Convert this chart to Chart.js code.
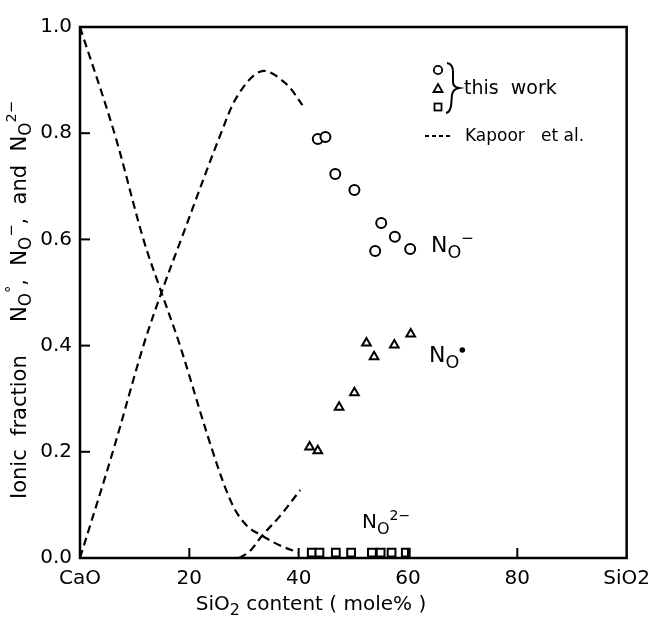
<!DOCTYPE html>
<html>
<head>
<meta charset="utf-8">
<script src="https://cdn.jsdelivr.net/npm/chart.js@4.4.1/dist/chart.umd.min.js"></script>
<style>
  html, body { margin: 0; padding: 0; background: #fff; }
  #wrap { width: 659px; height: 625px; position: relative; }
</style>
</head>
<body>
<div id="wrap"><canvas id="chart"></canvas></div>
<script>
// measured points (this work)
const circleX = [43.5, 44.9, 46.7, 50.2, 54.0, 55.1, 57.6, 60.4];
const circleY = [0.789, 0.793, 0.723, 0.693, 0.578, 0.631, 0.605, 0.582];
const triangleX = [42.0, 43.5, 47.4, 50.2, 52.4, 53.8, 57.5, 60.5];
const triangleY = [0.209, 0.202, 0.284, 0.311, 0.405, 0.379, 0.401, 0.422];
const squareX = [42.4, 43.8, 46.8, 49.6, 53.4, 55.0, 57.0, 59.6];
const squareY = [0.01, 0.01, 0.01, 0.01, 0.01, 0.01, 0.01, 0.01];

// Kapoor et al. curves
const freeX = [0, 6.3, 11.6, 14.9, 18.2, 24.2, 27.9, 30.6, 33.3, 36.5, 40];
const freeY = [1.0, 0.8, 0.6, 0.5, 0.403, 0.203, 0.1, 0.06, 0.042, 0.024, 0.01];
const singleX = [0, 6.0, 11.6, 14.9, 18.5, 25.8, 29.1, 33.3, 37.6, 40.7];
const singleY = [0, 0.2, 0.4, 0.5, 0.6, 0.8, 0.875, 0.917, 0.894, 0.853];
const bridgeX = [29.1, 31.0, 33.3, 36.5, 40.3];
const bridgeY = [0, 0.012, 0.042, 0.078, 0.128];

// axis ticks
const xTicks = [0, 20, 40, 60, 80, 100];
const xTickNames = { 0: 'CaO', 100: 'SiO2' };
const yTicks = [0, 0.2, 0.4, 0.6, 0.8, 1.0];

const FONT = "'DejaVu Sans', sans-serif";

function pts(xs, ys) {
    return xs.map((x, i) => ({ x: x, y: ys[i] }));
}

function markerSet(xs, ys, style, radius) {
    return {
        data: pts(xs, ys),
        pointStyle: style,
        pointRadius: radius,
        pointBackgroundColor: '#fff',
        pointBorderColor: '#000',
        pointBorderWidth: 2,
        showLine: false
    };
}

function dashedSet(xs, ys) {
    return {
        data: pts(xs, ys),
        showLine: true,
        borderColor: '#000',
        borderWidth: 2.2,
        borderDash: [8, 5],
        pointRadius: 0,
        tension: 0.35,
        fill: false
    };
}

// draw text with subscripts / superscripts, returns width
function drawRich(ctx, x, y, parts, size, measureOnly) {
    let cx = x;
    parts.forEach(([txt, kind]) => {
        let fs = size, dy = 0;
        if (kind === 'sub') { fs = size * 0.8; dy = size * 0.28; }
        if (kind === 'sup') { fs = size * 0.7; dy = -size * 0.42; }
        ctx.font = fs + 'px ' + FONT;
        if (!measureOnly) ctx.fillText(txt, cx, y + dy);
        cx += ctx.measureText(txt).width;
    });
    return cx - x;
}

const decorations = {
    id: 'decorations',
    afterDraw(chart) {
        const ctx = chart.ctx;
        const xs = chart.scales.x;
        const ys = chart.scales.y;
        const a = chart.chartArea;
        ctx.save();
        ctx.fillStyle = '#000';
        ctx.strokeStyle = '#000';
        ctx.setLineDash([]);

        // frame
        ctx.lineWidth = 2.5;
        ctx.strokeRect(a.left, a.top, a.right - a.left, a.bottom - a.top);

        // inward ticks
        ctx.lineWidth = 2;
        yTicks.slice(1, -1).forEach(v => {
            const py = ys.getPixelForValue(v);
            ctx.beginPath();
            ctx.moveTo(a.left, py);
            ctx.lineTo(a.left + 10, py);
            ctx.stroke();
        });
        xTicks.slice(1, -1).forEach(v => {
            const px = xs.getPixelForValue(v);
            ctx.beginPath();
            ctx.moveTo(px, a.bottom);
            ctx.lineTo(px, a.bottom - 10);
            ctx.stroke();
        });

        ctx.textBaseline = 'alphabetic';
        ctx.textAlign = 'left';

        // curve labels
        drawRich(ctx, 431, 252, [['N', 'n'], ['O', 'sub'], ['\u2212', 'sup']], 22);
        const w0 = drawRich(ctx, 429, 362, [['N', 'n'], ['O', 'sub']], 22);
        ctx.beginPath();
        ctx.arc(429 + w0 + 3, 350, 2.8, 0, Math.PI * 2);
        ctx.fill();
        drawRich(ctx, 362, 528, [['N', 'n'], ['O', 'sub'], ['2\u2212', 'sup']], 20);

        // legend: symbols + brace
        ctx.lineWidth = 1.8;
        ctx.beginPath();
        ctx.arc(438, 70, 4.2, 0, Math.PI * 2);
        ctx.stroke();
        ctx.beginPath();
        ctx.moveTo(438, 84);
        ctx.lineTo(442.5, 92);
        ctx.lineTo(433.5, 92);
        ctx.closePath();
        ctx.stroke();
        ctx.strokeRect(434.5, 103.5, 7, 7);

        ctx.lineWidth = 2;
        ctx.beginPath();
        ctx.moveTo(447, 63);
        ctx.quadraticCurveTo(453, 64, 453, 72);
        ctx.lineTo(453, 82);
        ctx.quadraticCurveTo(453, 87, 459, 88);
        ctx.quadraticCurveTo(453, 89, 452, 95);
        ctx.lineTo(451, 106);
        ctx.quadraticCurveTo(450, 112, 446, 113);
        ctx.stroke();

        ctx.font = '19px ' + FONT;
        ctx.textBaseline = 'middle';
        ctx.fillText('this  work', 464, 89);

        ctx.lineWidth = 2;
        ctx.setLineDash([4, 3]);
        ctx.beginPath();
        ctx.moveTo(425, 136);
        ctx.lineTo(453, 136);
        ctx.stroke();
        ctx.setLineDash([]);
        ctx.font = '17px ' + FONT;
        ctx.fillText('Kapoor   et al.', 465, 137);

        // x axis title
        ctx.textBaseline = 'middle';
        const xParts = [['SiO', 'n'], ['2', 'sub'], [' content ( mole% )', 'n']];
        const xw = drawRich(ctx, 0, 0, xParts, 20, true);
        drawRich(ctx, 311 - xw / 2, 605, xParts, 20);

        // y axis title (rotated)
        const yParts = [['Ionic  fraction     N', 'n'], ['O', 'sub'], ['\u00b0', 'sup'],
            [',  N', 'n'], ['O', 'sub'], ['\u2212', 'sup'], [',  and  N', 'n'], ['O', 'sub'], ['2\u2212', 'sup']];
        const yw = drawRich(ctx, 0, 0, yParts, 21, true);
        ctx.translate(21, 300);
        ctx.rotate(-Math.PI / 2);
        drawRich(ctx, -yw / 2, 0, yParts, 21);

        ctx.restore();
    }
};

new Chart(document.getElementById('chart'), {
    type: 'scatter',
    data: {
        datasets: [
            dashedSet(freeX, freeY),
            dashedSet(singleX, singleY),
            dashedSet(bridgeX, bridgeY),
            markerSet(circleX, circleY, 'circle', 5),
            markerSet(triangleX, triangleY, 'triangle', 5),
            markerSet(squareX, squareY, 'rect', 5.5)
        ]
    },
    options: {
        responsive: true,
        maintainAspectRatio: false,
        animation: false,
        layout: { padding: { top: 27, right: 31, left: 0, bottom: 0 } },
        plugins: {
            legend: { display: false },
            tooltip: { enabled: false }
        },
        scales: {
            x: {
                type: 'linear',
                min: 0,
                max: 100,
                afterFit: s => { s.height = 67; },
                afterBuildTicks: s => { s.ticks = xTicks.map(v => ({ value: v })); },
                grid: { display: false, drawTicks: false },
                border: { display: false },
                ticks: {
                    autoSkip: false,
                    maxRotation: 0,
                    padding: 9,
                    color: '#000',
                    font: { family: FONT, size: 20 },
                    callback: v => xTickNames[v] || String(v)
                }
            },
            y: {
                type: 'linear',
                min: 0,
                max: 1,
                afterFit: s => { s.width = 80; },
                afterBuildTicks: s => { s.ticks = yTicks.map(v => ({ value: v })); },
                grid: { display: false, drawTicks: false },
                border: { display: false },
                ticks: {
                    autoSkip: false,
                    padding: 8,
                    color: '#000',
                    font: { family: FONT, size: 20 },
                    callback: v => v.toFixed(1)
                }
            }
        }
    },
    plugins: [decorations]
});
</script>
</body>
</html>
